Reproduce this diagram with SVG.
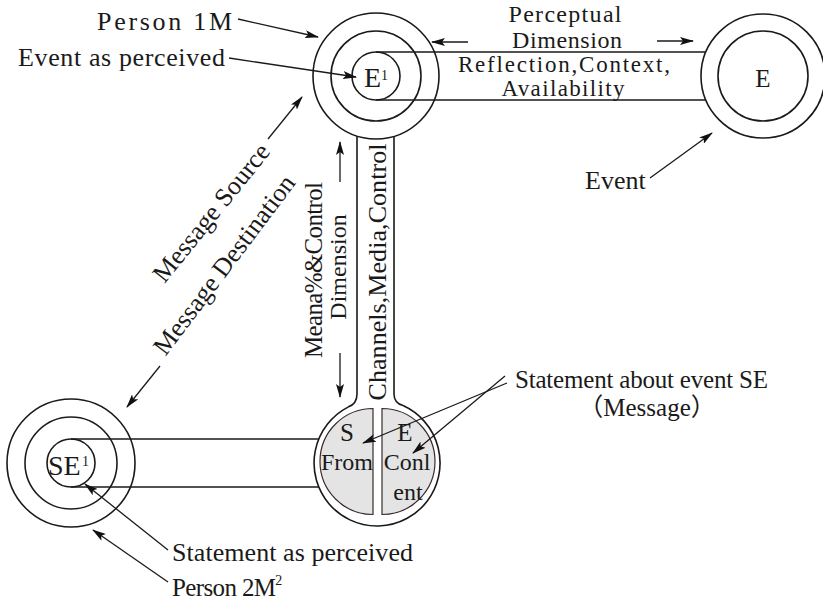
<svg xmlns="http://www.w3.org/2000/svg" width="823" height="611" viewBox="0 0 823 611">
<defs>
<marker id="ah" markerUnits="userSpaceOnUse" markerWidth="14" markerHeight="8" refX="13" refY="4" orient="auto"><path d="M0,0 L14,4 L0,8 L3,4 z" fill="#111"/></marker>
</defs>
<style>
.ln{fill:none;stroke:#1a1a1a;stroke-width:1.6}
.ar{fill:none;stroke:#1a1a1a;stroke-width:1.3;marker-end:url(#ah)}
.t{font-family:"Liberation Serif","Times New Roman",serif;font-size:26px;fill:#1a1a1a}
.m{text-anchor:middle}
.half{fill:#e4e4e4;stroke:#3b2b2b;stroke-width:1.2}
</style>
<rect width="823" height="611" fill="#fff"/>

<g id="person1">
<circle class="ln" cx="376" cy="76" r="63"/>
<circle class="ln" cx="376" cy="76" r="45"/>
<circle class="ln" cx="376" cy="76" r="24"/>
<text class="t" x="364" y="87" style="font-size:28px">E</text>
<text class="t" x="381" y="80" style="font-size:14px">1</text>
</g>

<g id="event">
<circle class="ln" cx="763" cy="76" r="62"/>
<circle class="ln" cx="763" cy="76" r="45"/>
<text class="t m" x="763" y="87" style="font-size:25px">E</text>
</g>

<g id="person2">
<circle class="ln" cx="71" cy="463" r="64"/>
<circle class="ln" cx="71" cy="463" r="46"/>
<circle class="ln" cx="71" cy="463" r="24"/>
<text class="t" x="48" y="475" style="font-size:28px">SE</text>
<text class="t" x="82" y="466" style="font-size:14px">1</text>
</g>

<g id="message">
<path class="ln" d="M403,405.6 A63,63 0 1 1 348,407.1"/>
<path class="half" d="M373,408.5 A53,53 0 0 0 373,514.5 Z"/>
<path class="half" d="M382,408.5 A53,53 0 0 1 382,514.5 Z"/>
<text class="t m" x="347" y="441" style="font-size:25px">S</text>
<text class="t m" x="347" y="470" style="font-size:24px">From</text>
<text class="t m" x="405" y="441" style="font-size:25px">E</text>
<text class="t m" x="407" y="470" style="font-size:24px">Conl</text>
<text class="t m" x="408" y="500" style="font-size:24px">ent</text>
</g>

<g id="connectors">
<path class="ln" d="M376,52 H706 M376,100 H706"/>
<path class="ln" d="M71,439 H319 M71,487 H319"/>
<path class="ln" d="M357,136 L357,394 Q357,404 348,407.1"/>
<path class="ln" d="M394,136 L394,394 Q394,403 403,405.6"/>
<path class="ar" d="M238,19 L318,37"/>
<path class="ar" d="M229,58 L356,77"/>
<path class="ar" d="M468,42 L432,42"/>
<path class="ar" d="M657,41 L693,41"/>
<path class="ar" d="M650,178 L712,133"/>
<path class="ar" d="M268,139 L302,97"/>
<path class="ar" d="M160,366 L127,407"/>
<path class="ar" d="M340,182 L340,142"/>
<path class="ar" d="M340,353 L340,397"/>
<path class="ar" d="M507,383 L363,443"/>
<path class="ar" d="M505,376 L413,453"/>
<path class="ar" d="M168,550 L85,484"/>
<path class="ar" d="M168,582 L93,530"/>
</g>

<g id="labels">
<text class="t" x="97" y="30" textLength="135" lengthAdjust="spacing">Person 1M</text>
<text class="t" x="18" y="66" textLength="207" lengthAdjust="spacing">Event as perceived</text>
<text class="t m" x="565" y="22" style="font-size:24px" textLength="113" lengthAdjust="spacing">Perceptual</text>
<text class="t m" x="567" y="48" style="font-size:24px" textLength="110" lengthAdjust="spacing">Dimension</text>
<text class="t m" x="564" y="72" style="font-size:23px" textLength="212" lengthAdjust="spacing">Reflection,Context,</text>
<text class="t m" x="563" y="96" style="font-size:23px" textLength="123" lengthAdjust="spacing">Availability</text>
<text class="t" x="585" y="189">Event</text>
<text class="t m" transform="translate(218,218) rotate(-51)">Message Source</text>
<text class="t m" transform="translate(231,270) rotate(-53)">Message Destination</text>
<text class="t m" transform="translate(322,270) rotate(-90)" style="font-size:25px" textLength="176" lengthAdjust="spacing">Meana%&amp;Control</text>
<text class="t m" transform="translate(346,267) rotate(-90)" style="font-size:24px">Dimension</text>
<text class="t m" transform="translate(386,272) rotate(-90)" textLength="257" lengthAdjust="spacing">Channels,Media,Control</text>
<text class="t" x="515" y="388" style="font-size:25px" textLength="253" lengthAdjust="spacing">Statement about event SE</text>
<text class="t m" x="647" y="416" style="font-family:'Liberation Serif','Noto Sans CJK SC',serif;font-size:25px">（Message）</text>
<text class="t" x="172" y="561" textLength="241" lengthAdjust="spacing">Statement as perceived</text>
<text class="t" x="172" y="596" style="font-size:25px"><tspan textLength="104" lengthAdjust="spacing">Person 2M</tspan><tspan dy="-11" style="font-size:14px">2</tspan></text>
</g>
</svg>
